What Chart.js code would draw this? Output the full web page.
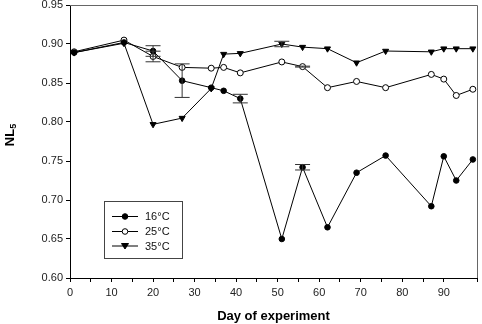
<!DOCTYPE html>
<html>
<head>
<meta charset="utf-8">
<script src="https://cdn.jsdelivr.net/npm/chart.js@4"></script>
<style>
body{margin:0;background:#fff}
</style>
</head>
<body>
<canvas id="nlChart" width="482" height="324"></canvas>
<script>
// days of sampling, shared by all three series
const days = [1,13,20,27,34,37,41,51,56,62,69,76,87,90,93,97]
const nl16 = [0.889,0.902,0.891,0.853,0.844,0.840,0.830,0.650,0.742,0.665,0.735,0.757,0.692,0.756,0.725,0.752]
const nl25 = [0.890,0.905,0.884,0.870,0.869,0.870,0.863,0.877,0.871,0.844,0.852,0.844,0.861,0.855,0.834,0.842]
const nl35 = [0.889,0.901,0.797,0.805,0.843,0.887,0.888,0.900,0.896,0.894,0.876,0.891,0.890,0.894,0.894,0.894]
// +/- error (0 = no bar)
const err16 = [0,0,0.0068,0.0215,0,0,0.0055,0,0.0035,0,0,0,0,0,0,0]
const err25 = [0,0,0.0068,0,0,0,0,0,0.0006,0,0,0,0,0,0,0]
const err35 = [0,0,0,0,0,0,0,0.0035,0,0,0,0,0,0,0,0]
const seriesNames = ['16°C','25°C','35°C']
const yTicks = [0.60,0.65,0.70,0.75,0.80,0.85,0.90,0.95]

function pts(vals){ return days.map((d,i)=>({x:d,y:vals[i]})) }

const errorBars = {
  id:'errorBars',
  afterDatasetsDraw(chart){
    const ctx=chart.ctx, xs=chart.scales.x, ys=chart.scales.y
    const errs=[err16,err25,err35]
    ctx.save()
    ctx.strokeStyle='#333'
    ctx.lineWidth=1
    chart.data.datasets.forEach((ds,k)=>{
      ds.data.forEach((p,i)=>{
        const e=errs[k][i]
        if(!e) return
        const x=xs.getPixelForValue(p.x)
        const y1=ys.getPixelForValue(p.y+e), y2=ys.getPixelForValue(p.y-e)
        ctx.beginPath()
        ctx.moveTo(x,y1);ctx.lineTo(x,y2)
        ctx.moveTo(x-7.5,y1);ctx.lineTo(x+7.5,y1)
        ctx.moveTo(x-7.5,y2);ctx.lineTo(x+7.5,y2)
        ctx.stroke()
      })
    })
    ctx.restore()
  }
}

const frameAndText = {
  id:'frameAndText',
  afterDraw(chart){
    const ctx=chart.ctx, a=chart.chartArea
    ctx.save()
    // top and right frame
    ctx.strokeStyle='#666'
    ctx.lineWidth=1
    ctx.beginPath()
    ctx.moveTo(a.left,a.top+0.5);ctx.lineTo(a.right+0.5,a.top+0.5);ctx.lineTo(a.right+0.5,a.bottom)
    ctx.stroke()
    // axis titles
    ctx.fillStyle='#000'
    ctx.font='bold 13px Arial, "Liberation Sans", sans-serif'
    ctx.textAlign='center'
    ctx.textBaseline='middle'
    ctx.fillText('Day of experiment',(a.left+a.right)/2,316)
    ctx.translate(10,135)
    ctx.rotate(-Math.PI/2)
    ctx.textAlign='left'
    const w=ctx.measureText('NL').width
    ctx.font='bold 9px Arial, "Liberation Sans", sans-serif'
    const w5=ctx.measureText('5').width
    ctx.font='bold 13px Arial, "Liberation Sans", sans-serif'
    ctx.fillText('NL',-(w+w5)/2,0)
    ctx.font='bold 9px Arial, "Liberation Sans", sans-serif'
    ctx.fillText('5',-(w+w5)/2+w,4)
    ctx.restore()

    // legend box
    ctx.save()
    ctx.strokeStyle='#444'
    ctx.lineWidth=1
    ctx.strokeRect(104.5,201.5,78,57)
    const rows=[216.5,231.5,246]
    chart.data.datasets.forEach((ds,k)=>{
      const y=rows[k]
      ctx.strokeStyle='#000'
      ctx.beginPath();ctx.moveTo(112,y);ctx.lineTo(138,y);ctx.stroke()
      ctx.fillStyle=ds.pointBackgroundColor
      ctx.beginPath()
      if(ds.pointStyle==='triangle'){
        ctx.moveTo(121.5,y-2.5);ctx.lineTo(128.5,y-2.5);ctx.lineTo(125,y+3);ctx.closePath()
      } else {
        ctx.arc(125,y,2.8,0,Math.PI*2)
      }
      ctx.fill();ctx.stroke()
      ctx.fillStyle='#111'
      ctx.font='11px Arial, "Liberation Sans", sans-serif'
      ctx.textAlign='left'
      ctx.textBaseline='middle'
      ctx.fillText(seriesNames[k],145,y+0.5)
    })
    ctx.restore()
  }
}

const chartNL = new Chart(document.getElementById('nlChart'),{
  type:'line',
  data:{
    datasets:[
      {label:seriesNames[0],data:pts(nl16),borderColor:'#000',borderWidth:1,pointBackgroundColor:'#000',pointBorderColor:'#000',pointRadius:2.8,pointStyle:'circle'},
      {label:seriesNames[1],data:pts(nl25),borderColor:'#000',borderWidth:1,pointBackgroundColor:'#fff',pointBorderColor:'#000',pointRadius:3,pointStyle:'circle'},
      {label:seriesNames[2],data:pts(nl35),borderColor:'#000',borderWidth:1,pointBackgroundColor:'#000',pointBorderColor:'#000',pointRadius:3.5,pointStyle:'triangle',rotation:180}
    ]
  },
  options:{
    responsive:false,
    animation:false,
    layout:{padding:{top:5,right:3,left:0,bottom:0}},
    plugins:{legend:{display:false},tooltip:{enabled:false}},
    scales:{
      x:{
        type:'linear',min:0,max:98,
        afterFit:s=>{s.height=46;s.paddingLeft=0;s.paddingRight=0},
        grid:{drawOnChartArea:false,tickLength:4,color:'#000'},
        border:{color:'#000',width:1},
        ticks:{stepSize:5,autoSkip:false,maxRotation:0,color:'#222',padding:4,
          font:{family:'Arial, "Liberation Sans", sans-serif',size:11},
          callback:v=>(v%10===0?String(v):'')}
      },
      y:{
        min:0.6,max:0.95,
        afterFit:s=>{s.width=70;s.paddingTop=0;s.paddingBottom=0},
        afterBuildTicks:s=>{s.ticks=yTicks.map(v=>({value:v}))},
        grid:{drawOnChartArea:false,tickLength:4,color:'#000'},
        border:{color:'#000',width:1},
        ticks:{color:'#222',padding:3,
          font:{family:'Arial, "Liberation Sans", sans-serif',size:11},
          callback:v=>v.toFixed(2)}
      }
    }
  },
  plugins:[errorBars,frameAndText]
})
</script>
</body>
</html>
